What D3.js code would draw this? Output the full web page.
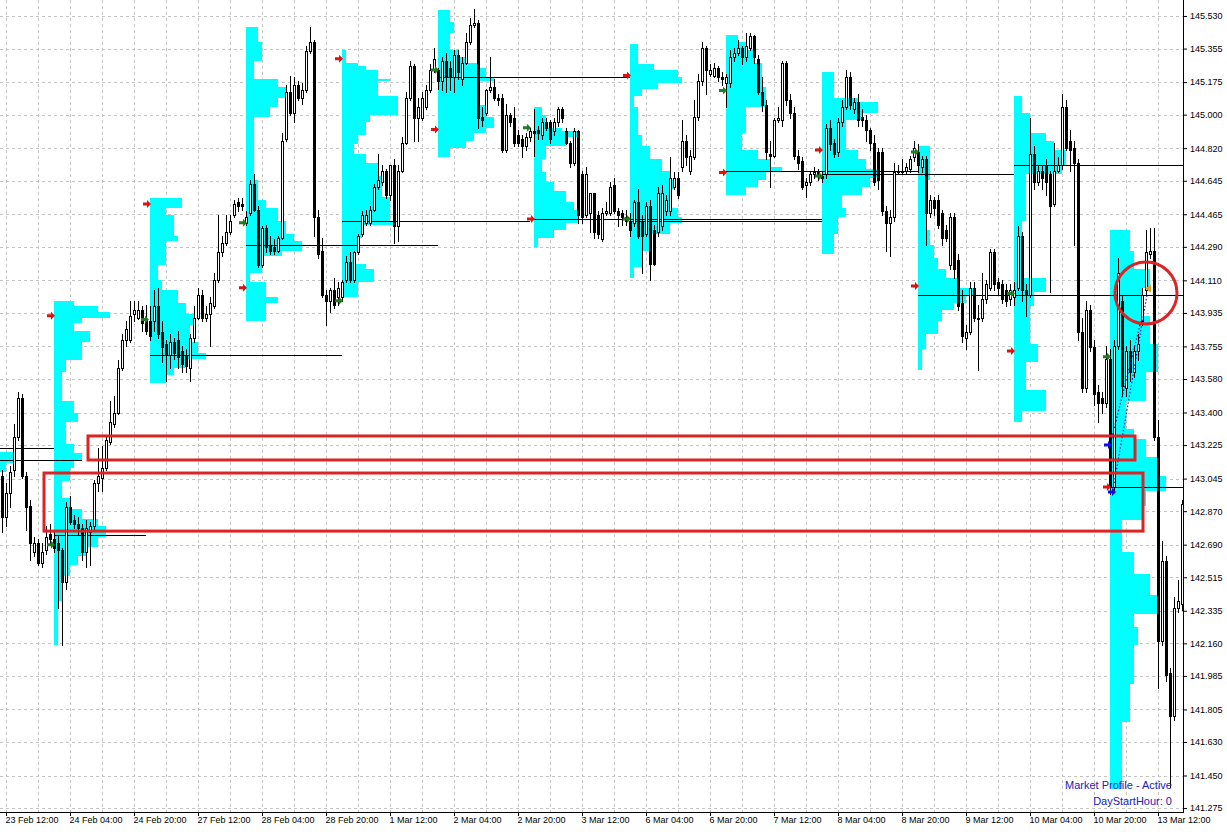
<!DOCTYPE html>
<html><head><meta charset="utf-8">
<script src="https://cdn.jsdelivr.net/npm/d3@7/dist/d3.min.js"></script>
<style>html,body{margin:0;padding:0;background:#fff;} svg{display:block;font-family:"Liberation Sans",Arial,sans-serif;}</style>
</head><body>
<svg id="chart" width="1227" height="832"></svg>
<script>
// ---------- DATA ----------
// price-axis labels
const priceTicks = [145.530,145.355,145.175,145.000,144.820,144.645,144.465,144.290,144.110,143.935,143.755,143.580,143.400,143.225,143.045,142.870,142.690,142.515,142.335,142.160,141.985,141.805,141.630,141.450,141.275];
// time-axis labels (one every 16 H1 bars, bar 0 = 23 Feb 12:00)
const timeLabels = ["23 Feb 12:00","24 Feb 04:00","24 Feb 20:00","27 Feb 12:00","28 Feb 04:00","28 Feb 20:00","1 Mar 12:00","2 Mar 04:00","2 Mar 20:00","3 Mar 12:00","6 Mar 04:00","6 Mar 20:00","7 Mar 12:00","8 Mar 04:00","8 Mar 20:00","9 Mar 12:00","10 Mar 04:00","10 Mar 20:00","13 Mar 12:00"];
const timeTickBars = [0,16,32,48,64,80,96,112,128,144,160,176,192,208,224,240,256,272,288];

// H1 candles [open, high, low, close] per day
const feb23 = [[143.06,143.09,142.76,142.84],[142.84,143.02,142.79,142.97],[142.97,143.11,142.89,143.08],[143.09,143.34,143.06,143.27],[143.27,143.51,143.25,143.48],[143.48,143.50,143.05,143.06],[143.06,143.08,142.77,142.89],[142.90,142.93,142.61,142.70],[142.65,142.73,142.63,142.70],[142.70,142.72,142.58,142.59],[142.59,142.70,142.57,142.65],[142.66,142.79,142.64,142.73],[142.75,142.80,142.69,142.72]];
const feb24 = [[142.72,142.77,142.65,142.67],[142.70,142.74,142.35,142.66],[142.66,142.67,142.15,142.49],[142.49,142.92,142.45,142.89],[142.89,142.95,142.80,142.81],[142.82,142.85,142.78,142.80],[142.80,142.84,142.74,142.78],[142.78,142.80,142.61,142.65],[142.65,142.82,142.57,142.78],[142.76,142.81,142.58,142.79],[142.79,143.04,142.77,143.02],[143.02,143.21,142.98,143.06],[143.05,143.22,142.98,143.10],[143.10,143.28,143.09,143.25],[143.24,143.46,143.23,143.35],[143.34,143.49,143.32,143.40],[143.40,143.68,143.39,143.64],[143.64,143.82,143.63,143.79],[143.79,143.89,143.76,143.85],[143.79,144.00,143.78,143.92],[143.93,144.00,143.89,143.95],[143.91,144.00,143.90,143.95],[143.95,143.97,143.84,143.88],[143.90,143.98,143.82,143.84]];
const feb27 = [[143.89,143.97,143.79,143.81],[143.89,144.06,143.84,143.97],[143.97,144.07,143.80,143.82],[143.83,143.89,143.67,143.75],[143.77,143.79,143.57,143.71],[143.71,143.82,143.64,143.78],[143.78,143.80,143.69,143.72],[143.79,143.84,143.64,143.70],[143.73,143.76,143.62,143.66],[143.71,143.74,143.62,143.65],[143.64,143.82,143.57,143.80],[143.80,143.97,143.78,143.91],[143.91,144.07,143.90,144.03],[144.03,144.06,143.89,143.91],[143.91,143.97,143.89,143.93],[143.93,144.02,143.76,143.99],[143.97,144.15,143.96,144.11],[144.11,144.46,144.10,144.26],[144.26,144.35,144.24,144.31],[144.31,144.46,144.30,144.37],[144.37,144.46,144.36,144.43],[144.46,144.54,144.45,144.52],[144.53,144.55,144.48,144.51],[144.52,144.55,144.49,144.51]];
const feb28 = [[144.42,144.48,144.41,144.45],[144.47,144.65,144.46,144.63],[144.63,144.68,144.48,144.49],[144.49,144.51,144.18,144.19],[144.19,144.40,144.18,144.39],[144.39,144.41,144.26,144.29],[144.30,144.35,144.25,144.27],[144.29,144.33,144.25,144.27],[144.27,144.35,144.26,144.34],[144.34,144.90,144.33,144.86],[144.87,145.16,144.86,145.12],[145.12,145.21,145.00,145.01],[145.01,145.20,144.96,145.16],[145.16,145.18,145.08,145.09],[145.09,145.17,145.06,145.13],[145.13,145.37,145.12,145.34],[145.34,145.47,145.33,145.39],[145.39,145.40,144.35,144.45],[144.45,144.49,144.23,144.25],[144.27,144.34,144.02,144.03],[144.03,144.06,143.87,144.00],[144.00,144.07,143.94,144.06],[144.06,144.12,143.96,143.98],[144.02,144.10,143.98,144.07]];
const mar01 = [[144.02,144.11,144.00,144.10],[144.11,144.24,144.10,144.21],[144.21,144.26,144.10,144.11],[144.11,144.27,144.10,144.26],[144.26,144.36,144.25,144.35],[144.36,144.48,144.35,144.46],[144.42,144.49,144.41,144.46],[144.42,144.51,144.41,144.49],[144.49,144.63,144.48,144.61],[144.61,144.79,144.60,144.65],[144.64,144.73,144.62,144.70],[144.70,144.71,144.55,144.57],[144.57,144.73,144.54,144.73],[144.73,144.76,144.31,144.40],[144.40,144.73,144.32,144.70],[144.70,144.88,144.69,144.85],[144.85,145.12,144.84,145.09],[145.09,145.29,145.08,145.26],[145.26,145.27,144.86,144.98],[144.98,145.09,144.86,145.04],[144.98,145.12,144.97,145.09],[145.04,145.16,145.03,145.13],[145.13,145.27,145.12,145.24],[145.24,145.36,145.23,145.30]];
const mar02 = [[145.24,145.25,145.14,145.18],[145.18,145.31,145.13,145.29],[145.29,145.33,145.12,145.20],[145.25,145.29,145.13,145.20],[145.20,145.35,145.12,145.32],[145.32,145.35,145.19,145.23],[145.19,145.31,145.16,145.28],[145.28,145.44,145.27,145.39],[145.39,145.52,145.38,145.48],[145.48,145.57,145.47,145.49],[145.49,145.51,144.93,144.98],[144.99,145.04,144.94,144.97],[145.01,145.14,145.00,145.13],[145.13,145.31,145.12,145.15],[145.15,145.19,145.08,145.09],[145.09,145.11,145.05,145.08],[145.09,145.11,144.80,144.81],[144.81,145.06,144.80,145.00],[145.00,145.01,144.94,144.96],[144.98,145.04,144.83,144.85],[144.89,144.92,144.83,144.85],[144.87,144.89,144.77,144.83],[144.83,144.90,144.81,144.88],[144.88,144.93,144.86,144.91]];
const mar03 = [[144.91,145.03,144.78,144.90],[144.92,144.94,144.87,144.90],[144.89,144.98,144.87,144.96],[144.96,144.98,144.92,144.93],[144.96,144.97,144.85,144.87],[144.91,144.98,144.89,144.96],[144.96,145.04,144.94,145.03],[145.03,145.04,144.96,144.98],[144.91,144.93,144.84,144.85],[144.85,144.86,144.72,144.74],[144.74,144.93,144.73,144.91],[144.91,144.92,144.42,144.46],[144.68,144.70,144.42,144.45],[144.46,144.72,144.45,144.68],[144.47,144.58,144.37,144.58],[144.58,144.58,144.34,144.37],[144.46,144.48,144.34,144.36],[144.33,144.50,144.32,144.47],[144.47,144.53,144.46,144.48],[144.47,144.64,144.46,144.61],[144.62,144.66,144.47,144.48],[144.48,144.50,144.40,144.46],[144.47,144.49,144.41,144.45],[144.45,144.49,144.41,144.43]];
const mar06 = [[144.43,144.47,144.35,144.38],[144.42,144.54,144.40,144.53],[144.53,144.60,144.34,144.35],[144.43,144.46,144.15,144.35],[144.36,144.53,144.35,144.51],[144.51,144.54,144.11,144.20],[144.38,144.41,144.19,144.20],[144.37,144.61,144.35,144.58],[144.40,144.62,144.38,144.58],[144.48,144.57,144.46,144.54],[144.48,144.77,144.46,144.66],[144.61,144.69,144.60,144.66],[144.66,144.69,144.55,144.57],[144.72,144.97,144.70,144.86],[144.86,144.89,144.73,144.77],[144.70,144.81,144.68,144.78],[144.77,145.08,144.76,144.99],[144.99,145.22,144.97,145.18],[145.18,145.39,145.16,145.36],[145.36,145.37,145.11,145.24],[145.22,145.27,145.21,145.24],[145.21,145.28,145.20,145.25],[145.25,145.26,145.18,145.20],[145.20,145.23,145.16,145.19]];
const mar07 = [[145.17,145.22,145.04,145.20],[145.17,145.35,145.15,145.31],[145.31,145.36,145.29,145.33],[145.33,145.40,145.32,145.36],[145.36,145.37,145.27,145.31],[145.31,145.44,145.29,145.37],[145.36,145.44,145.35,145.42],[145.42,145.43,145.28,145.31],[145.30,145.32,145.11,145.12],[145.12,145.20,145.02,145.05],[145.05,145.08,144.76,144.80],[144.79,144.86,144.61,144.78],[144.78,144.98,144.77,144.97],[144.97,145.04,144.96,144.98],[144.97,145.29,144.94,145.28],[145.28,145.29,145.05,145.08],[145.08,145.11,144.98,145.01],[145.01,145.04,144.76,144.78],[144.78,144.81,144.71,144.74],[144.75,144.77,144.60,144.61],[144.62,144.66,144.56,144.64],[144.64,144.70,144.62,144.68],[144.68,144.72,144.66,144.69],[144.69,144.71,144.65,144.68]];
const mar08 = [[144.67,144.69,144.64,144.66],[144.68,144.95,144.66,144.93],[144.93,144.97,144.81,144.84],[144.85,144.87,144.77,144.79],[144.80,144.98,144.78,144.96],[144.96,145.08,144.94,145.04],[145.04,145.24,145.03,145.20],[145.20,145.23,145.03,145.05],[145.03,145.09,145.01,145.07],[145.07,145.11,144.94,144.97],[144.99,145.03,144.94,144.97],[144.97,145.00,144.86,144.92],[144.92,144.93,144.81,144.85],[144.85,144.89,144.62,144.64],[144.80,144.82,144.60,144.65],[144.80,144.82,144.46,144.48],[144.48,144.51,144.27,144.42],[144.42,144.49,144.24,144.45],[144.45,144.74,144.43,144.69],[144.69,144.73,144.68,144.70],[144.69,144.76,144.68,144.70],[144.70,144.74,144.68,144.72],[144.71,144.78,144.69,144.76],[144.77,144.86,144.75,144.82]];
const mar09 = [[144.80,144.84,144.69,144.73],[144.72,144.78,144.69,144.76],[144.76,144.78,144.30,144.47],[144.47,144.57,144.45,144.54],[144.54,144.56,144.46,144.50],[144.54,144.57,144.39,144.41],[144.47,144.49,144.30,144.34],[144.38,144.41,144.32,144.34],[144.19,144.47,144.17,144.45],[144.45,144.47,144.12,144.17],[144.22,144.25,143.95,143.97],[143.99,144.06,143.78,143.81],[143.80,143.87,143.74,143.83],[143.83,144.10,143.82,144.07],[144.07,144.10,143.89,143.91],[143.91,143.98,143.63,143.90],[143.91,144.15,143.89,144.01],[144.01,144.11,143.99,144.09],[144.07,144.28,144.06,144.26],[144.26,144.28,144.06,144.09],[144.10,144.12,144.03,144.07],[144.09,144.11,143.99,144.01],[144.06,144.09,143.97,144.00],[144.01,144.09,143.98,144.06]];
const mar10 = [[144.02,144.10,143.98,144.06],[144.07,144.40,144.06,144.35],[144.35,144.37,144.00,144.06],[144.06,144.09,143.92,144.03],[144.03,144.98,144.02,144.79],[144.79,144.83,144.60,144.64],[144.64,144.73,144.62,144.70],[144.70,144.73,144.60,144.66],[144.73,144.76,144.57,144.64],[144.68,144.70,144.05,144.51],[144.52,144.85,144.51,144.70],[144.70,144.77,144.69,144.73],[144.73,145.11,144.71,145.04],[145.04,145.08,144.81,144.82],[144.86,144.92,144.70,144.81],[144.82,144.86,144.30,144.74],[144.74,144.76,143.79,143.83],[143.83,143.91,143.51,143.53],[143.53,144.00,143.51,143.95],[143.95,143.98,143.73,143.75],[143.75,143.79,143.44,143.50],[143.51,143.55,143.35,143.45],[143.48,143.51,143.40,143.45],[143.45,143.76,143.43,143.69]];
const mar13 = [[143.69,143.74,142.96,143.00],[143.00,143.79,142.98,143.76],[143.76,144.23,143.74,144.15],[144.00,144.03,143.49,143.54],[143.53,143.76,143.49,143.73],[143.73,143.79,143.57,143.62],[143.62,143.76,143.59,143.73],[143.73,143.82,143.68,143.77],[143.89,144.07,143.87,144.03],[144.06,144.38,144.03,144.26],[144.25,144.39,144.23,144.27],[144.27,144.39,143.25,143.27],[143.27,143.36,141.92,142.17],[142.17,142.71,142.15,142.60],[142.60,142.63,141.96,141.99],[142.00,142.03,141.39,141.77],[141.77,142.41,141.75,142.35],[142.35,142.50,142.33,142.39],[142.37,142.93,142.34,142.91]];
// first bar index of each candle block
const candleBlocks = [[-1,feb23],[12,feb24],[36,feb27],[60,feb28],[84,mar01],[108,mar02],[132,mar03],[156,mar06],[180,mar07],[204,mar08],[228,mar09],[252,mar10],[276,mar13]];

// Market-profile rows per day: [row top price, TPO count]; row runs down to next row; last row = bottom
const p23feb = [[143.60,6],[143.25,10],[143.19,14],[143.13,12],[143.08,9],[142.60,0]];
const p24feb = [[144.00,5],[143.97,11],[143.94,14],[143.91,7],[143.88,5],[143.84,9],[143.78,7],[143.76,7],[143.68,3],[143.62,2],[143.56,2],[143.46,5],[143.40,6],[143.35,3],[143.30,3],[143.23,5],[143.18,7],[143.14,5],[143.10,4],[143.03,2],[142.94,4],[142.88,7],[142.83,11],[142.79,13],[142.76,13],[142.73,11],[142.68,8],[142.63,6],[142.58,4],[142.52,2],[142.39,1],[142.15,0]];
const p27feb = [[144.55,8],[144.50,4],[144.46,6],[144.35,7],[144.32,4],[144.19,2],[144.11,3],[144.06,7],[143.99,9],[143.93,11],[143.87,10],[143.78,12],[143.72,14],[143.69,9],[143.64,6],[143.60,4],[143.56,0]];
const p28feb = [[145.47,3],[145.39,4],[145.29,2],[145.19,8],[145.15,10],[145.09,8],[145.04,6],[144.99,2],[144.88,2],[144.72,2],[144.65,3],[144.54,5],[144.50,8],[144.43,10],[144.36,12],[144.32,14],[144.27,9],[144.24,4],[144.15,1],[144.10,5],[144.02,8],[143.99,5],[143.89,0]];
const p01mar = [[145.35,1],[145.28,4],[145.26,6],[145.24,9],[145.19,12],[145.18,9],[145.10,14],[145.00,7],[144.96,6],[144.89,4],[144.84,3],[144.79,6],[144.74,9],[144.67,10],[144.56,12],[144.43,13],[144.41,5],[144.34,4],[144.27,3],[144.20,6],[144.17,8],[144.10,4],[144.02,0]];
const p02mar = [[145.56,3],[145.50,4],[145.44,3],[145.35,5],[145.31,7],[145.28,10],[145.25,12],[145.20,14],[145.18,10],[145.12,10],[145.05,12],[144.99,14],[144.93,12],[144.90,9],[144.86,7],[144.82,3],[144.77,0]];
const p03mar = [[145.04,2],[145.00,3],[144.93,7],[144.91,11],[144.88,8],[144.83,3],[144.76,2],[144.69,3],[144.64,5],[144.59,8],[144.53,10],[144.49,11],[144.45,11],[144.42,8],[144.38,5],[144.34,1],[144.29,0]];
const p06mar = [[145.38,2],[145.27,6],[145.24,12],[145.20,13],[145.17,7],[145.14,3],[145.10,1],[145.04,2],[144.89,3],[144.83,5],[144.76,8],[144.70,10],[144.65,11],[144.60,10],[144.50,12],[144.45,13],[144.42,10],[144.36,5],[144.27,3],[144.18,1],[144.12,0]];
const p07mar = [[145.43,3],[145.39,5],[145.35,7],[145.28,9],[145.15,10],[145.04,5],[144.90,4],[144.81,8],[144.76,11],[144.72,14],[144.69,10],[144.65,8],[144.61,5],[144.57,0]];
const p08mar = [[145.23,3],[145.09,9],[145.07,14],[145.01,10],[144.97,6],[144.90,6],[144.81,9],[144.76,11],[144.71,14],[144.66,12],[144.61,10],[144.57,5],[144.50,6],[144.45,4],[144.36,3],[144.25,0]];
const p09mar = [[144.83,3],[144.65,2],[144.55,2],[144.38,3],[144.30,4],[144.23,5],[144.17,7],[144.12,10],[144.07,14],[144.03,12],[143.99,9],[143.95,6],[143.89,5],[143.82,2],[143.74,1],[143.63,0]];
const p10mar = [[145.10,2],[145.01,4],[144.90,8],[144.86,10],[144.81,13],[144.73,12],[144.68,3],[144.43,2],[144.12,8],[144.05,5],[143.97,4],[143.77,6],[143.67,3],[143.52,8],[143.41,2],[143.35,0]];
const p13mar = [[144.38,5],[144.27,6],[144.17,10],[144.07,8],[143.92,10],[143.77,12],[143.62,9],[143.46,4],[143.31,6],[143.26,9],[143.16,12],[143.11,12],[143.06,14],[142.98,9],[142.90,8],[142.82,3],[142.65,6],[142.53,10],[142.42,12],[142.32,6],[142.25,7],[142.15,6],[141.94,5],[141.74,3],[141.38,0]];
// profile day start bar
const profiles = [[-12,p23feb],[12,p24feb],[36,p27feb],[60,p28feb],[84,p01mar],[108,p02mar],[132,p03mar],[156,p06mar],[180,p07mar],[204,p08mar],[228,p09mar],[252,p10mar],[276,p13mar]];

// median lines: [price, start bar, end bar]
const medianLines = [[143.21,-36,12],[143.145,-12,19],[142.74,12,35],[143.71,36,84],[144.30,60,108],[144.43,84,131],[145.20,108,156],[144.44,132,204],[144.43,156,204],[144.70,180,228],[144.68,204,252],[144.03,228,294.3],[144.73,252,294.3],[143.00,276,294.3]];

// arrow markers [bar, price]
const redArrows = [[12,143.92],[36,144.52],[60,144.07],[84,145.30],[108,144.92],[132,144.44],[156,145.21],[180,144.69],[204,144.81],[228,144.08],[252,143.73],[276,143.00]];
const greenArrows = [[12,142.69],[35.5,143.90],[60,144.42],[84,144.00],[108,145.24],[131,144.93],[156,144.44],[180,145.13],[204,144.67],[228,144.80],[252,144.04],[276,143.70]];
const blueArrows = [[275.5,143.225],[276.5,142.973]];
const goldMarks = [[285.5,144.066]];
const dottedLines = [[[276,143.225],[284,143.913]],[[276.75,142.984],[285.25,144.031]]];

// red annotation rectangles [bar from, bar to, price top, price bottom]
const redRects = [[20.5,282.25,143.274,143.145],[9.5,284.25,143.075,142.763]];
const redCircles = [[285,144.042]];

const infoLines = ["Market Profile - Active","DayStartHour: 0"];

// ---------- DRAWING ----------
const plotR = 1183, plotB = 812;
const svg = d3.select("#chart");
const x = d3.scaleLinear().domain([0,294]).range([6,1182]);
const y = d3.scaleLinear().domain([145.616,141.254]).range([0,plotB]);
const barW = x(1) - x(0);

svg.append("rect").attr("width",1227).attr("height",832).attr("fill","#fff");
svg.append("defs").append("clipPath").attr("id","plot").append("rect").attr("x",0).attr("y",0).attr("width",plotR).attr("height",plotB);
const g = svg.append("g").attr("clip-path","url(#plot)");

// grid
const grid = g.append("g").attr("stroke","#c4c4c4").attr("stroke-dasharray","3,3").attr("shape-rendering","crispEdges");
priceTicks.forEach(p => grid.append("line").attr("x1",0).attr("x2",plotR).attr("y1",Math.round(y(p))+0.5).attr("y2",Math.round(y(p))+0.5));
d3.range(0,295,8).forEach(b => grid.append("line").attr("x1",x(b)+0.5).attr("x2",x(b)+0.5).attr("y1",0).attr("y2",plotB));

// market profiles
const prof = g.append("g").attr("fill","#00ffff").attr("shape-rendering","crispEdges");
profiles.forEach(([start, rows]) => {
  const x0 = x(start);
  for (let j = 0; j < rows.length - 1; j++) {
    const n = rows[j][1];
    if (!n) continue;
    const y0 = Math.round(y(rows[j][0])), y1 = Math.round(y(rows[j+1][0]));
    prof.append("rect").attr("x",x0).attr("y",y0).attr("width",n*barW).attr("height",Math.max(1,y1-y0));
  }
});

// median lines
const ml = g.append("g").attr("stroke","#000").attr("shape-rendering","crispEdges");
medianLines.forEach(([p,s,e]) => ml.append("line").attr("x1",x(s)).attr("x2",x(e)).attr("y1",Math.round(y(p))+0.5).attr("y2",Math.round(y(p))+0.5));

// candles
const cg = g.append("g").attr("shape-rendering","crispEdges");
candleBlocks.forEach(([start, rows]) => {
  rows.forEach((r, k) => {
    const [o,h,l,c] = r;
    const cx = x(start + k);
    cg.append("line").attr("x1",cx+0.5).attr("x2",cx+0.5).attr("y1",Math.round(y(h))).attr("y2",Math.round(y(l))+1).attr("stroke","#000");
    const top = Math.round(y(Math.max(o,c))), bot = Math.round(y(Math.min(o,c)));
    if (c >= o) {
      cg.append("rect").attr("x",cx-0.5).attr("y",top+0.5).attr("width",2).attr("height",Math.max(0,bot-top))
        .attr("fill","#fff").attr("stroke","#000").attr("shape-rendering","auto");
    } else {
      cg.append("rect").attr("x",cx-1).attr("y",top).attr("width",3).attr("height",Math.max(1,bot-top+1)).attr("fill","#000");
    }
  });
});

// arrows
const arrowPath = "M-4,-1.5H0V-4L4,0L0,4V1.5H-4Z";
function arrows(data, color, dx) {
  data.forEach(([b,p]) => g.append("path").attr("d",arrowPath).attr("fill",color)
    .attr("transform",`translate(${x(b)+dx},${y(p)})`));
}
arrows(redArrows,"#e41010",-3);
arrows(greenArrows,"#1f7f1f",-3);
arrows(blueArrows,"#1010e0",0);
goldMarks.forEach(([b,p]) => g.append("path").attr("d","M-3,0L3,-4V4Z").attr("fill","#e0a020").attr("transform",`translate(${x(b)},${y(p)})`));

// dotted trend lines
dottedLines.forEach(([a,b]) => g.append("line").attr("x1",x(a[0])).attr("y1",y(a[1])).attr("x2",x(b[0])).attr("y2",y(b[1]))
  .attr("stroke","#1414c8").attr("stroke-width",1.2).attr("stroke-dasharray","1.5,2"));

// red rectangles and circle
redRects.forEach(([b0,b1,p0,p1]) => g.append("rect").attr("x",x(b0)).attr("y",y(p0)).attr("width",x(b1)-x(b0)).attr("height",y(p1)-y(p0))
  .attr("fill","none").attr("stroke","#dc2424").attr("stroke-width",3));
redCircles.forEach(([b,p]) => g.append("circle").attr("cx",x(b)).attr("cy",y(p)).attr("r",31)
  .attr("fill","none").attr("stroke","#dc2424").attr("stroke-width",3));

// info text
infoLines.forEach((t,i) => svg.append("text").attr("x",1172).attr("y",789 + i*16).attr("text-anchor","end")
  .attr("font-size",11).attr("fill","#2222b4").text(t));

// frame
svg.append("path").attr("d",`M0,${plotB+0.5}H${plotR+0.5}V0`).attr("fill","none").attr("stroke","#000").attr("shape-rendering","crispEdges");

// axes
const yAxis = d3.axisRight(y).tickValues(priceTicks).tickFormat(d3.format(".3f")).tickSize(4).tickPadding(3);
const ya = svg.append("g").attr("transform",`translate(${plotR},0)`).call(yAxis);
ya.select(".domain").remove();
ya.selectAll("text").attr("font-size",9).attr("font-family","'Liberation Sans',Arial,sans-serif").attr("fill","#000");

const xAxis = d3.axisBottom(x).tickValues(timeTickBars).tickFormat((d,i) => timeLabels[i]).tickSize(4).tickPadding(1);
const xa = svg.append("g").attr("transform",`translate(0,${plotB})`).call(xAxis);
xa.select(".domain").remove();
xa.selectAll("text").attr("font-size",9).attr("font-family","'Liberation Sans',Arial,sans-serif").attr("text-anchor","start").attr("x",-1).attr("fill","#000");
</script>
</body></html>
